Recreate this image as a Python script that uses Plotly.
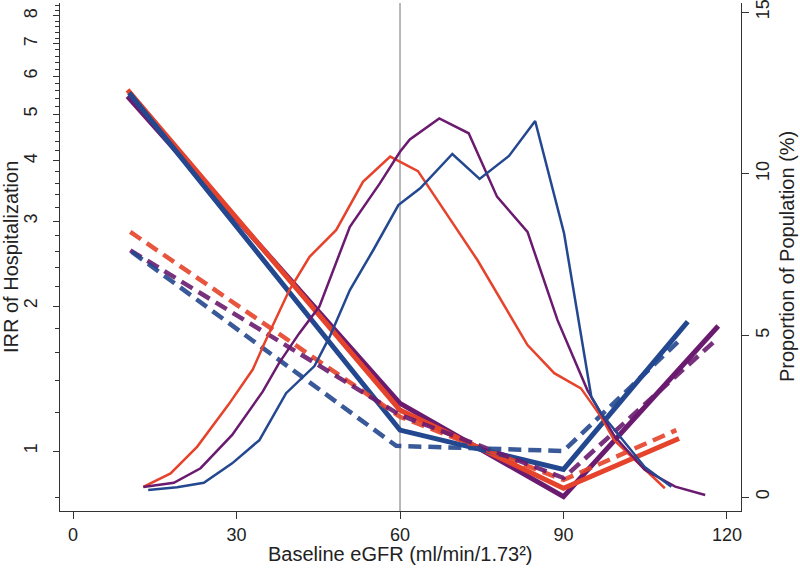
import plotly.graph_objects as go

# ---- Data ----
# Population distribution (right axis, % of population)
pop_red_x = [12.9, 17.9, 22.8, 28.5, 33.0, 35.1, 39.7, 43.4, 48.3, 53.2, 58.2, 63.3, 74.2, 77.8, 83.4, 88.3, 93.2, 96.9, 99.3, 108.6]
pop_red_y = [0.31, 0.73, 1.56, 2.85, 3.95, 4.75, 6.40, 7.43, 8.26, 9.75, 10.53, 10.08, 7.33, 6.30, 4.70, 3.83, 3.36, 2.48, 1.76, 0.27]

pop_purple_x = [12.9, 18.5, 23.4, 29.2, 34.8, 37.8, 41.5, 45.2, 50.8, 56.3, 60.0, 61.8, 67.2, 72.6, 77.8, 83.4, 88.9, 94.4, 99.4, 104.9, 110.5, 116.0]
pop_purple_y = [0.31, 0.44, 0.89, 1.92, 3.26, 4.14, 5.06, 5.89, 8.36, 9.70, 10.68, 11.06, 11.71, 11.25, 9.29, 8.20, 5.47, 3.30, 1.87, 0.84, 0.32, 0.06]

pop_blue_x = [13.8, 19.1, 24.0, 29.2, 34.2, 39.1, 44.3, 47.1, 50.8, 55.1, 59.7, 63.7, 69.6, 74.6, 80.0, 84.8, 90.1, 95.1, 96.9, 104.9, 109.8]
pop_blue_y = [0.22, 0.30, 0.44, 1.04, 1.76, 3.21, 4.05, 4.96, 6.40, 7.64, 9.03, 9.55, 10.61, 9.84, 10.55, 11.63, 8.16, 3.10, 2.59, 0.93, 0.32]

# IRR of hospitalization (left axis, log scale) - solid
irr_red_x = [10.0, 60, 90, 111.2]
irr_red_y = [5.62, 1.216, 0.837, 1.062]
irr_purple_x = [10.0, 60, 90, 118.4]
irr_purple_y = [5.45, 1.256, 0.804, 1.818]
irr_blue_x = [10.3, 60, 90, 112.8]
irr_blue_y = [5.54, 1.105, 0.916, 1.856]

# IRR - dashed
irrd_red_x = [10.5, 60, 90, 110.7]
irrd_red_y = [2.85, 1.178, 0.871, 1.105]
irrd_purple_x = [10.5, 60, 90, 118.3]
irrd_purple_y = [2.61, 1.188, 0.879, 1.714]
irrd_blue_x = [10.8, 59.3, 90, 111.7]
irrd_blue_y = [2.59, 1.025, 1.0, 1.714]

x_ticks = [0, 30, 60, 90, 120]
y_ticks = [1, 2, 3, 4, 5, 6, 7, 8]
y_minor = [0.8] + [round(1 + 0.2 * i, 1) for i in range(1, 38) if round(1 + 0.2 * i, 1) not in (2.0, 3.0, 4.0, 5.0, 6.0, 7.0, 8.0)]
y2_ticks = [0, 5, 10, 15]

RED = "#E5432B"
PURPLE = "#6A1B6F"
BLUE = "#24488F"

fig = go.Figure()

# thick solid IRR
for xs, ys, c in [(irr_purple_x, irr_purple_y, PURPLE), (irr_red_x, irr_red_y, RED), (irr_blue_x, irr_blue_y, BLUE)]:
    fig.add_trace(go.Scatter(x=xs, y=ys, mode="lines", line=dict(color=c, width=5), yaxis="y", showlegend=False))

# dashed IRR
for xs, ys, c in [(irrd_red_x, irrd_red_y, RED), (irrd_purple_x, irrd_purple_y, PURPLE), (irrd_blue_x, irrd_blue_y, BLUE)]:
    fig.add_trace(go.Scatter(x=xs, y=ys, mode="lines", opacity=0.9,
                             line=dict(color=c, width=4.5, dash="13px,7px"), yaxis="y", showlegend=False))

# thin population curves
for xs, ys, c in [(pop_red_x, pop_red_y, RED), (pop_purple_x, pop_purple_y, PURPLE), (pop_blue_x, pop_blue_y, BLUE)]:
    fig.add_trace(go.Scatter(x=xs, y=ys, mode="lines", line=dict(color=c, width=2.5), yaxis="y2", showlegend=False))

font = "Liberation Sans, Arial, Helvetica, sans-serif"
TXT = "#222"
TICK_FS = 18
TITLE_FS = 20

fig.update_layout(
    width=800, height=570,
    margin=dict(l=60, r=59, t=3, b=59),
    paper_bgcolor="white", plot_bgcolor="white",
    font=dict(family=font, size=TICK_FS, color=TXT),
    xaxis=dict(
        range=[-2.39, 122.57], tickvals=x_ticks, ticks="outside", ticklen=7, tickcolor="#333",
        showline=True, linecolor="#333", linewidth=1.3, showgrid=False, zeroline=False,
        automargin=False, tickfont=dict(size=TICK_FS),
    ),
    yaxis=dict(
        type="log", range=[-0.1245, 0.930], tickvals=y_ticks, ticktext=[str(v) for v in y_ticks],
        ticks="outside", ticklen=6, tickcolor="#333", tickangle=-90, ticklabelstandoff=9,
        ticklabeloverflow="allow",
        minor=dict(tickmode="array", tickvals=y_minor, ticks="outside", ticklen=4, tickcolor="#333", showgrid=False),
        showline=True, linecolor="#333", linewidth=1.3, showgrid=False, zeroline=False,
        automargin=False, tickfont=dict(size=TICK_FS),
    ),
    yaxis2=dict(
        overlaying="y", side="right", range=[-0.433, 15.28], tickvals=y2_ticks,
        ticks="outside", ticklen=7, tickcolor="#333", tickangle=-90, ticklabelstandoff=-2,
        ticklabeloverflow="allow",
        showline=True, linecolor="#333", linewidth=1.3, showgrid=False, zeroline=False,
        automargin=False, tickfont=dict(size=TICK_FS),
    ),
    shapes=[dict(type="line", xref="x", yref="paper", x0=60, x1=60, y0=0, y1=1,
                 line=dict(color="#8a8a8a", width=1.2), layer="below")],
    annotations=[
        dict(text="IRR of Hospitalization", xref="paper", yref="paper", x=0, y=0.5,
             xshift=-49, textangle=-90, showarrow=False, xanchor="center", yanchor="middle",
             font=dict(size=TITLE_FS, color=TXT)),
        dict(text="Proportion of Population (%)", xref="paper", yref="paper", x=1, y=0.5,
             xshift=46, textangle=-90, showarrow=False, xanchor="center", yanchor="middle",
             font=dict(size=TITLE_FS, color=TXT)),
        dict(text="Baseline eGFR (ml/min/1.73²)", xref="paper", yref="paper", x=0.5, y=0,
             yshift=-43, showarrow=False, xanchor="center", yanchor="middle",
             font=dict(size=TITLE_FS, color=TXT)),
    ],
)

fig.write_html("out.html", config={"displayModeBar": False},
               post_script="document.body.style.margin='0';document.body.style.overflow='hidden';")
